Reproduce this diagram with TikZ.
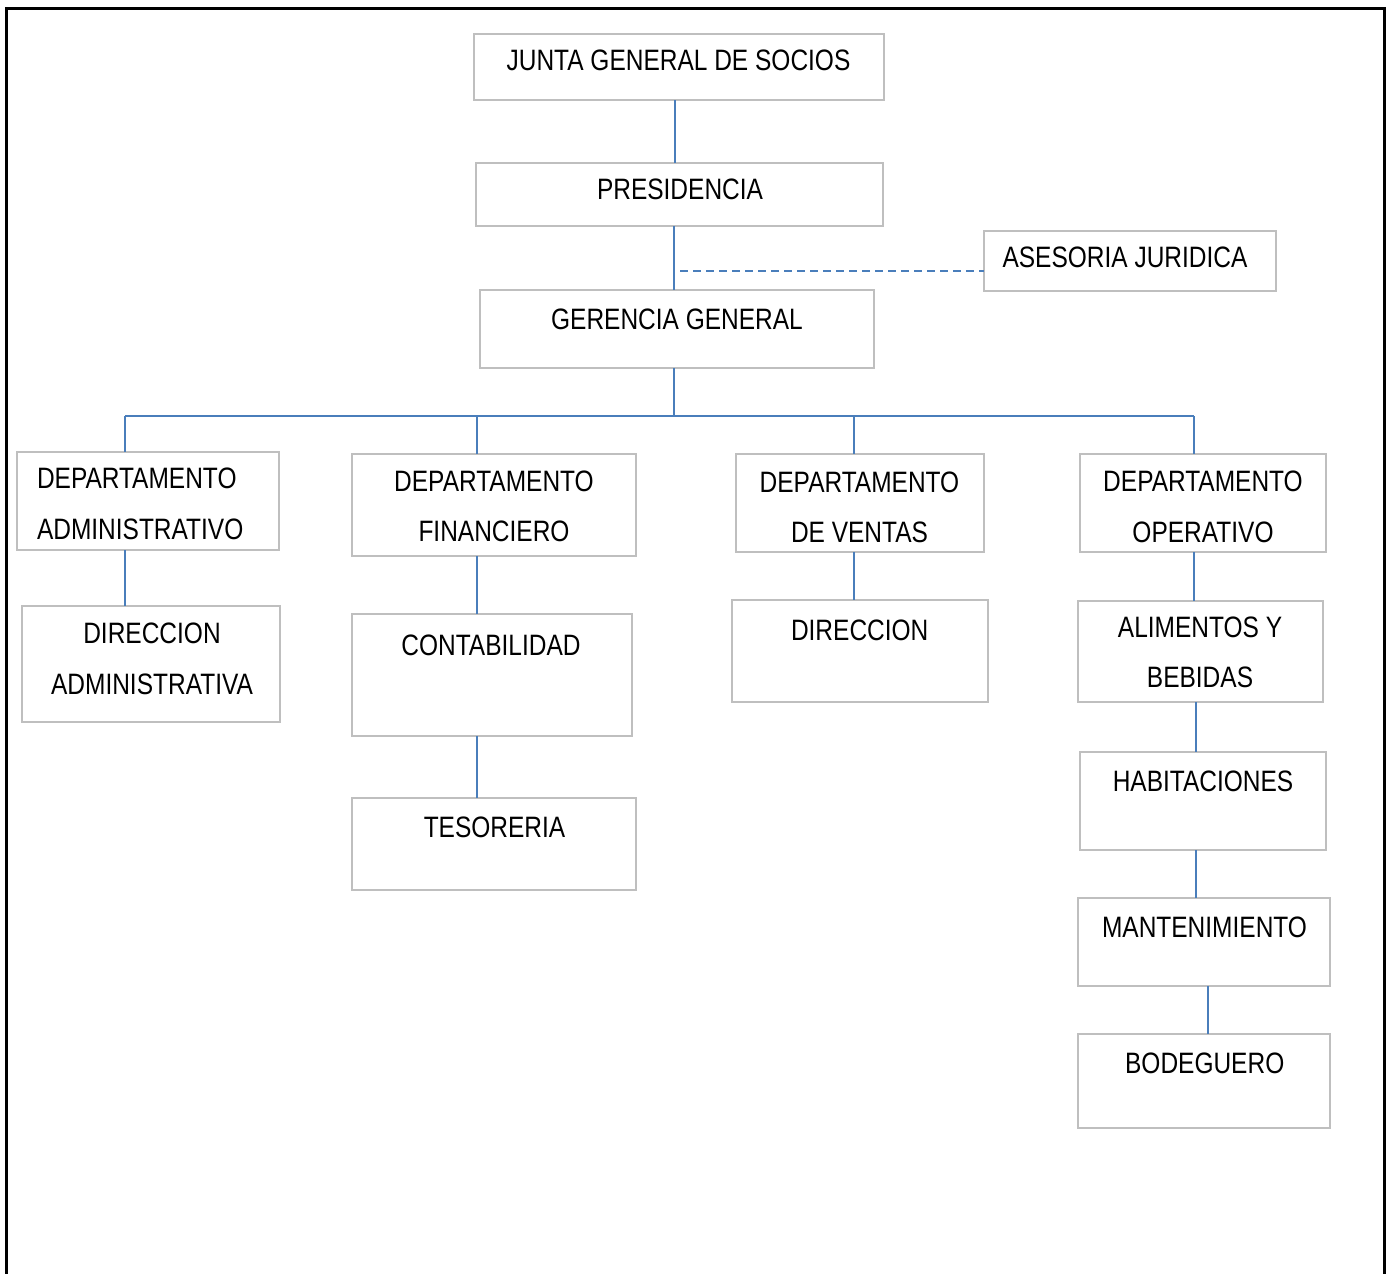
\documentclass[tikz,border=0pt]{standalone}
\usepackage{fontspec}
\setmainfont[FakeStretch=0.83]{Liberation Sans}
\definecolor{boxgray}{HTML}{BFBFBF}
\definecolor{connblue}{HTML}{4A7EBB}
\begin{document}
\begin{tikzpicture}[x=1pt,y=-1pt,
  box/.style={draw=boxgray,line width=2pt,rectangle,inner sep=0pt,outer sep=0pt},
  txt/.style={anchor=north,inner sep=0pt,outer sep=0pt,align=center,
    font=\fontsize{29.5}{50.5}\selectfont},
  conn/.style={draw=connblue,line width=2pt},
  dashconn/.style={draw=connblue,line width=2pt,dash pattern=on 8pt off 5pt}]
\useasboundingbox (0,0) rectangle (1392,1274);
% outer frame
\draw[line width=3pt] (6.5,1280) -- (6.5,8) -- (1384.5,8) -- (1384.5,1280);

% boxes
\node[box,minimum width=410pt,minimum height=66pt] (junta) at (679,67) {};
\node[box,minimum width=407pt,minimum height=63pt] (pres) at (679.5,194.5) {};
\node[box,minimum width=292pt,minimum height=60pt] (ases) at (1130,261) {};
\node[box,minimum width=394pt,minimum height=78pt] (ger) at (677,329) {};
\node[box,minimum width=262pt,minimum height=98pt] (dadm) at (148,501) {};
\node[box,minimum width=284pt,minimum height=102pt] (dfin) at (494,505) {};
\node[box,minimum width=248pt,minimum height=98pt] (dven) at (860,503) {};
\node[box,minimum width=246pt,minimum height=98pt] (dop) at (1203,503) {};
\node[box,minimum width=258pt,minimum height=116pt] (diradm) at (151,664) {};
\node[box,minimum width=280pt,minimum height=122pt] (cont) at (492,675) {};
\node[box,minimum width=284pt,minimum height=92pt] (tes) at (494,844) {};
\node[box,minimum width=256pt,minimum height=102pt] (dir) at (860,651) {};
\node[box,minimum width=245pt,minimum height=101pt] (alim) at (1200.5,651.5) {};
\node[box,minimum width=246pt,minimum height=98pt] (hab) at (1203,801) {};
\node[box,minimum width=252pt,minimum height=88pt] (mant) at (1204,942) {};
\node[box,minimum width=252pt,minimum height=94pt] (bod) at (1204,1081) {};

% texts
\node[txt] (juntaT) at (678.5,50) {JUNTA GENERAL DE SOCIOS};
\node[txt] (presT) at (680,179.3) {PRESIDENCIA};
\node[txt] (asesT) at (1125,246.5) {ASESORIA JURIDICA};
\node[txt] (gerT) at (677,308.5) {GERENCIA GENERAL};
\node[txt,anchor=north west,align=left] (dadmT) at (37,468.3) {DEPARTAMENTO\\ADMINISTRATIVO};
\node[txt] (dfinT) at (494,470.5) {DEPARTAMENTO\\FINANCIERO};
\node[txt] (dvenT) at (859.5,471.7) {DEPARTAMENTO\\DE VENTAS};
\node[txt] (dopT) at (1203,471) {DEPARTAMENTO\\OPERATIVO};
\node[txt] (diradmT) at (152,623.3) {DIRECCION\\ADMINISTRATIVA};
\node[txt] (contT) at (491,635) {CONTABILIDAD};
\node[txt] (tesT) at (494.5,816.7) {TESORERIA};
\node[txt] (dirT) at (859.7,620) {DIRECCION};
\node[txt] (alimT) at (1200,616.7) {ALIMENTOS Y\\BEBIDAS};
\node[txt] (habT) at (1203,771) {HABITACIONES};
\node[txt] (mantT) at (1204.5,917.3) {MANTENIMIENTO};
\node[txt] (bodT) at (1204.7,1052.7) {BODEGUERO};

% connector columns
\coordinate (cJ) at (675,0);
\coordinate (cG) at (674,0);
\coordinate (cA) at (125,0);
\coordinate (cF) at (477,0);
\coordinate (cV) at (854,0);
\coordinate (cO) at (1194,0);
\coordinate (cH) at (1196,0);
\coordinate (cM) at (1208,0);
\coordinate (bus) at (0,416);
\coordinate (dstart) at (680,271);

% connectors
\draw[conn] (junta.south -| cJ) -- (pres.north -| cJ);
\draw[conn] (pres.south -| cG) -- (ger.north -| cG);
\draw[dashconn] (dstart) -- (dstart -| ases.west);
\draw[conn] (ger.south -| cG) -- (cG |- bus);
\draw[conn] (cA |- bus) -- (cO |- bus);
\draw[conn] (cA |- bus) -- (dadm.north -| cA);
\draw[conn] (cF |- bus) -- (dfin.north -| cF);
\draw[conn] (cV |- bus) -- (dven.north -| cV);
\draw[conn] (cO |- bus) -- (dop.north -| cO);
\draw[conn] (dadm.south -| cA) -- (diradm.north -| cA);
\draw[conn] (dfin.south -| cF) -- (cont.north -| cF);
\draw[conn] (cont.south -| cF) -- (tes.north -| cF);
\draw[conn] (dven.south -| cV) -- (dir.north -| cV);
\draw[conn] (dop.south -| cO) -- (alim.north -| cO);
\draw[conn] (alim.south -| cH) -- (hab.north -| cH);
\draw[conn] (hab.south -| cH) -- (mant.north -| cH);
\draw[conn] (mant.south -| cM) -- (bod.north -| cM);
\end{tikzpicture}
\end{document}
